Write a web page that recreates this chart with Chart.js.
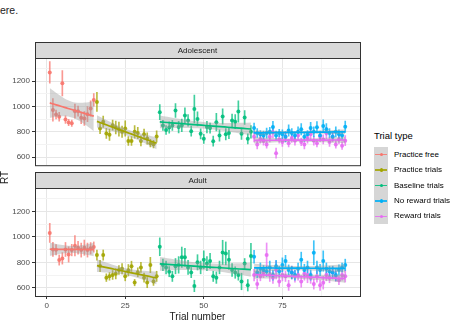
<!DOCTYPE html>
<html>
<head>
<meta charset="utf-8">
<script src="https://cdn.jsdelivr.net/npm/chart.js@4.4.0/dist/chart.umd.min.js"></script>
<style>
  body { margin: 0; width: 456px; height: 329px; background: #fff; position: relative; overflow: hidden;
         font-family: "Liberation Sans", Arial, sans-serif; }
  canvas { position: absolute; left: 0; }
  #adolescent { top: 40px; }
  #adult { top: 170px; }
  .txt { position: absolute; white-space: nowrap; line-height: 1; }
  #yTitle { left: 0; top: 173px; font-size: 10px; color: #1a1a1a; transform-origin: 0 0; transform: translate(0px, 11px) rotate(-90deg); }
  #legendTitle { left: 374px; top: 131px; font-size: 9.5px; color: #000; }
  .key { position: absolute; left: 374px; width: 14px; height: 15.4px; background: #d6d6d6; }
  .key .ln { position: absolute; left: 1px; right: 1px; top: 7px; height: 1.4px; opacity: 0.85; }
  .key .dot { position: absolute; left: 5.5px; top: 6px; width: 3.4px; height: 3.4px; border-radius: 50%; }
  .keyLabel { position: absolute; left: 394px; font-size: 8px; color: #000; }
</style>
</head>
<body>
<div class="txt" style="left:0;top:4.5px;font-size:10.5px;color:#222;">ere.</div>
<canvas id="adolescent" width="365" height="132"></canvas>
<canvas id="adult" width="365" height="159"></canvas>
<div class="txt" id="yTitle">RT</div>
<div class="txt" id="legendTitle">Trial type</div>
<div id="legend"></div>

<script>
// axis ticks
const xTicks = [0, 12.5, 25, 37.5, 50, 62.5, 75, 87.5];
const xTickLabels = ['0', '', '25', '', '50', '', '75', ''];
const yTicks = [600, 700, 800, 900, 1000, 1100, 1200, 1300];
const yTickLabels = ['600', '', '800', '', '1000', '', '1200', ''];

const trialTypes = ['Practice free', 'Practice trials', 'Baseline trials', 'No reward trials', 'Reward trials'];
const firstTrial = [1, 16, 36, 66, 66];

// Adolescent: mean RT per trial and error bar half-width
const adolFreeRT = [1269, 973, 937, 918, 1184, 897, 874, 868, 963, 963, 910, 905, 939, 984, 1052];
const adolFreeErr = [85, 90, 35, 35, 100, 30, 25, 25, 55, 40, 45, 55, 60, 60, 50];
const adolPracticeRT = [1036, 826, 879, 787, 776, 852, 834, 821, 800, 826, 728, 728, 800, 790, 728, 781, 747, 710, 702, 763];
const adolPracticeErr = [75, 40, 45, 40, 45, 40, 50, 55, 45, 60, 35, 35, 50, 45, 40, 40, 45, 30, 30, 45];
const adolBaselineRT = [955, 850, 815, 834, 850, 968, 837, 850, 929, 890, 805, 981, 902, 784, 744, 837, 829, 726, 876, 771, 921, 780, 790, 890, 880, 960, 785, 913, 744, 800];
const adolBaselineErr = [60, 40, 35, 45, 40, 55, 45, 50, 60, 45, 40, 110, 55, 40, 35, 45, 40, 40, 70, 45, 60, 45, 45, 50, 55, 85, 45, 55, 40, 50];
const adolNoRewardRT = [829, 790, 780, 770, 790, 800, 837, 770, 790, 780, 760, 810, 790, 770, 800, 820, 760, 780, 830, 800, 836, 770, 845, 820, 790, 760, 800, 780, 770, 840];
const adolNoRewardErr = [40, 35, 30, 35, 40, 35, 45, 35, 30, 35, 40, 45, 35, 30, 40, 45, 35, 30, 45, 40, 45, 35, 50, 45, 35, 30, 40, 35, 35, 45];
const adolRewardRT = [760, 700, 740, 730, 700, 760, 797, 631, 740, 720, 760, 710, 750, 730, 770, 720, 700, 750, 780, 730, 710, 760, 740, 790, 720, 760, 700, 740, 690, 730];
const adolRewardErr = [40, 35, 30, 35, 30, 40, 45, 40, 30, 35, 40, 30, 35, 35, 40, 30, 35, 40, 45, 35, 30, 40, 35, 45, 35, 40, 30, 35, 30, 40];

// Adult
const adultFreeRT = [1031, 901, 899, 818, 831, 901, 862, 896, 930, 915, 896, 915, 896, 910, 920];
const adultFreeErr = [75, 55, 40, 40, 45, 55, 60, 45, 80, 50, 55, 60, 55, 45, 40];
const adultPracticeRT = [857, 771, 857, 680, 690, 701, 710, 740, 750, 690, 738, 769, 641, 722, 760, 680, 641, 779, 649, 690];
const adultPracticeErr = [40, 45, 40, 30, 30, 35, 40, 35, 40, 35, 45, 40, 25, 35, 40, 35, 40, 60, 30, 40];
const adultBaselineRT = [922, 780, 760, 727, 690, 770, 780, 840, 840, 760, 720, 615, 800, 760, 820, 790, 810, 690, 680, 760, 878, 870, 820, 740, 720, 700, 650, 790, 620, 850];
const adultBaselineErr = [70, 45, 50, 40, 40, 60, 65, 80, 70, 55, 40, 45, 60, 50, 70, 55, 60, 40, 45, 50, 95, 90, 75, 50, 45, 40, 65, 40, 45, 100];
const adultNoRewardRT = [844, 720, 750, 740, 730, 760, 700, 770, 730, 780, 810, 740, 720, 700, 750, 820, 740, 760, 700, 875, 760, 740, 810, 750, 730, 720, 700, 740, 760, 780];
const adultNoRewardErr = [50, 40, 45, 35, 40, 50, 40, 45, 40, 55, 45, 40, 50, 40, 45, 60, 45, 50, 40, 95, 50, 45, 80, 45, 40, 50, 45, 40, 35, 45];
const adultRewardRT = [700, 630, 690, 720, 857, 700, 680, 740, 650, 700, 690, 620, 720, 690, 700, 650, 710, 700, 680, 630, 690, 620, 640, 700, 680, 720, 690, 660, 700, 690];
const adultRewardErr = [45, 40, 35, 40, 95, 50, 45, 70, 40, 45, 40, 40, 50, 45, 40, 45, 50, 60, 45, 40, 45, 40, 50, 45, 40, 45, 40, 35, 40, 45];

const typeColors = ['#F8766D', '#A3A500', '#00BF7D', '#00B0F6', '#E76BF3'];
const ribbonColor = 'rgba(153,153,153,0.4)';

function withAlpha(hex, a) {
    const n = parseInt(hex.slice(1), 16);
    return 'rgba(' + (n >> 16) + ',' + ((n >> 8) & 255) + ',' + (n & 255) + ',' + a + ')';
}

// linear fit with 95% confidence band (like geom_smooth(method = "lm"))
function lmBand(xs, ys) {
    const n = xs.length;
    const mx = xs.reduce((a, b) => a + b, 0) / n;
    const my = ys.reduce((a, b) => a + b, 0) / n;
    let sxx = 0, sxy = 0;
    for (let i = 0; i < n; i++) {
        sxx += (xs[i] - mx) ** 2;
        sxy += (xs[i] - mx) * (ys[i] - my);
    }
    const b = sxy / sxx, a = my - b * mx;
    let sse = 0;
    for (let i = 0; i < n; i++) sse += (ys[i] - a - b * xs[i]) ** 2;
    const s = Math.sqrt(sse / (n - 2));
    const t = 1.96 + 2.4 / (n - 2);
    const fit = [], lo = [], hi = [];
    for (let k = 0; k <= 24; k++) {
        const x = xs[0] + (xs[n - 1] - xs[0]) * k / 24;
        const y = a + b * x;
        const se = s * Math.sqrt(1 / n + (x - mx) ** 2 / sxx);
        fit.push({ x, y });
        lo.push({ x, y: y - t * se });
        hi.push({ x, y: y + t * se });
    }
    return { fit, lo, hi };
}

function buildDatasets(seriesList) {
    const sets = [];
    seriesList.forEach(([means, errs], k) => {
        const color = typeColors[k];
        const xs = means.map((_, i) => firstTrial[k] + i);
        sets.push({
            type: 'bar', grouped: false, barThickness: 1, borderWidth: 0,
            backgroundColor: withAlpha(color, 0.75), order: 5,
            data: xs.map((x, i) => ({ x, y: [means[i] - errs[i], means[i] + errs[i]] }))
        });
        sets.push({
            type: 'scatter', order: 4, pointRadius: 2, pointBorderWidth: 0,
            backgroundColor: withAlpha(color, 0.9), borderColor: color,
            data: xs.map((x, i) => ({ x, y: means[i] }))
        });
    });
    seriesList.forEach(([means], k) => {
        const xs = means.map((_, i) => firstTrial[k] + i);
        const band = lmBand(xs, means);
        sets.push({ type: 'line', order: 3, data: band.hi, borderWidth: 0, pointRadius: 0, fill: false });
        sets.push({ type: 'line', order: 3, data: band.lo, borderWidth: 0, pointRadius: 0, fill: '-1', backgroundColor: ribbonColor });
        sets.push({ type: 'line', order: 1, data: band.fit, borderColor: typeColors[k], borderWidth: 1.7, pointRadius: 0, fill: false });
    });
    return sets;
}

// draws the strip (facet label) and panel border
const panelFrame = {
    id: 'panelFrame',
    afterDraw(chart, args, opts) {
        const { ctx, chartArea: a } = chart;
        const w = a.right - a.left;
        ctx.save();
        ctx.lineWidth = 1;
        ctx.strokeStyle = '#333333';
        ctx.fillStyle = '#d9d9d9';
        ctx.fillRect(a.left + 0.5, a.top - 15.5, w, 16);
        ctx.strokeRect(a.left + 0.5, a.top - 15.5, w, 16);
        ctx.strokeRect(a.left + 0.5, a.top + 0.5, w, a.bottom - a.top);
        ctx.fillStyle = '#1a1a1a';
        ctx.font = '8px "Liberation Sans", Arial, sans-serif';
        ctx.textAlign = 'center';
        ctx.textBaseline = 'middle';
        ctx.fillText(opts.label, a.left + w / 2, a.top - 7.5);
        ctx.restore();
    }
};

function makePanel(id, label, seriesList, showX) {
    const tickFont = { family: '"Liberation Sans", Arial, sans-serif', size: 8 };
    new Chart(document.getElementById(id), {
        type: 'scatter',
        data: { datasets: buildDatasets(seriesList) },
        plugins: [panelFrame],
        options: {
            responsive: false,
            animation: false,
            events: [],
            layout: { padding: { top: 18, right: 5, bottom: showX ? 0 : 6, left: 0 } },
            plugins: {
                legend: { display: false },
                tooltip: { enabled: false },
                panelFrame: { label: label }
            },
            scales: {
                x: {
                    type: 'linear', min: -3.7, max: 99.7, offset: false,
                    afterBuildTicks: s => { s.ticks = xTicks.map(v => ({ value: v })); },
                    afterFit: s => { s.height = showX ? 33 : 0; },
                    border: { display: false },
                    grid: {
                        offset: false,
                        drawTicks: showX,
                        tickLength: 3,
                        color: c => (xTickLabels[xTicks.indexOf(c.tick.value)] ? '#e6e6e6' : '#f3f3f3'),
                        tickColor: c => (xTickLabels[xTicks.indexOf(c.tick.value)] ? '#333333' : 'rgba(0,0,0,0)')
                    },
                    ticks: {
                        display: showX, padding: 1.5, color: '#4d4d4d', font: tickFont,
                        maxRotation: 0, autoSkip: false,
                        callback: (v, i) => xTickLabels[i]
                    },
                    title: {
                        display: showX, text: 'Trial number', color: '#1a1a1a',
                        font: { family: '"Liberation Sans", Arial, sans-serif', size: 10 },
                        padding: { top: 0, bottom: 6 }
                    }
                },
                y: {
                    min: 536, max: 1383,
                    afterBuildTicks: s => { s.ticks = yTicks.map(v => ({ value: v })); },
                    afterFit: s => { s.width = 35; },
                    border: { display: false },
                    grid: {
                        tickLength: 3,
                        color: c => (yTickLabels[yTicks.indexOf(c.tick.value)] ? '#e6e6e6' : '#f3f3f3'),
                        tickColor: c => (yTickLabels[yTicks.indexOf(c.tick.value)] ? '#333333' : 'rgba(0,0,0,0)')
                    },
                    ticks: {
                        padding: 2, color: '#4d4d4d', font: tickFont, autoSkip: false,
                        callback: (v, i) => yTickLabels[i]
                    }
                }
            }
        }
    });
}

makePanel('adolescent', 'Adolescent', [
    [adolFreeRT, adolFreeErr], [adolPracticeRT, adolPracticeErr], [adolBaselineRT, adolBaselineErr],
    [adolNoRewardRT, adolNoRewardErr], [adolRewardRT, adolRewardErr]
], false);
makePanel('adult', 'Adult', [
    [adultFreeRT, adultFreeErr], [adultPracticeRT, adultPracticeErr], [adultBaselineRT, adultBaselineErr],
    [adultNoRewardRT, adultNoRewardErr], [adultRewardRT, adultRewardErr]
], true);

// legend
const legend = document.getElementById('legend');
trialTypes.forEach((name, i) => {
    const top = 147 + i * 15.4;
    const key = document.createElement('div');
    key.className = 'key';
    key.style.top = top + 'px';
    key.innerHTML = '<div class="ln" style="background:' + typeColors[i] + '"></div>' +
        '<div class="dot" style="background:' + typeColors[i] + '"></div>';
    legend.appendChild(key);
    const lab = document.createElement('div');
    lab.className = 'txt keyLabel';
    lab.style.top = (top + 3.8) + 'px';
    lab.textContent = name;
    legend.appendChild(lab);
});
</script>
</body>
</html>
